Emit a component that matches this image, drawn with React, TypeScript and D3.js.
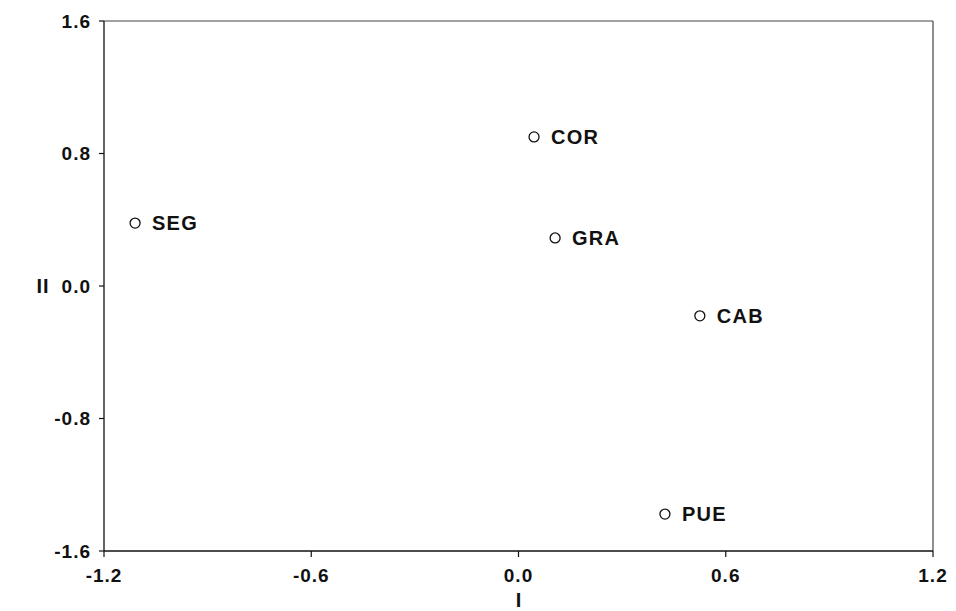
import React from "react";
import * as d3 from "d3";

const labels = ["COR", "GRA", "SEG", "CAB", "PUE"];
const xValues = [0.045, 0.106, -1.11, 0.525, 0.424];
const yValues = [0.9, 0.29, 0.38, -0.18, -1.377];
const xTicks = [-1.2, -0.6, 0.0, 0.6, 1.2];
const yTicks = [-1.6, -0.8, 0.0, 0.8, 1.6];
const xTitle = "I";
const yTitle = "II";

const W = 956;
const H = 611;
const left = 104;
const right = 933;
const top = 21;
const bottom = 551;

export default function App() {
  const x = d3.scaleLinear().domain([-1.2, 1.2]).range([left, right]);
  const y = d3.scaleLinear().domain([-1.6, 1.6]).range([bottom, top]);
  const font = "Arial, 'Liberation Sans', Helvetica, sans-serif";
  const fmt = (v: number) => d3.format(".1f")(v).replace("\u2212", "-");
  return (
    <svg
      width={W}
      height={H}
      style={{ position: "absolute", left: 0, top: 0, background: "#fff" }}
      fontFamily={font}
    >
      {/* frame */}
      <line x1={left} x2={right} y1={top} y2={top} stroke="#444" strokeWidth={1.2} />
      <line x1={right} x2={right} y1={top} y2={bottom} stroke="#444" strokeWidth={1.2} />
      <line x1={left} x2={left} y1={top} y2={bottom} stroke="#111" strokeWidth={1.3} />
      <line x1={left} x2={right} y1={bottom} y2={bottom} stroke="#111" strokeWidth={1.5} />
      {/* y ticks */}
      {yTicks.map((t, i) => (
        <g key={"y" + i}>
          <line x1={left - 5} x2={left} y1={y(t)} y2={y(t)} stroke="#111" strokeWidth={1.2} />
          <text
            x={left - 13}
            y={y(t)}
            dy="0.36em"
            textAnchor="end"
            fontSize={19}
            fontWeight="bold"
            letterSpacing={1}
            fill="#111"
          >
            {fmt(t)}
          </text>
        </g>
      ))}
      {/* x ticks */}
      {xTicks.map((t, i) => (
        <g key={"x" + i}>
          <line x1={x(t)} x2={x(t)} y1={bottom} y2={bottom + 6} stroke="#111" strokeWidth={1.2} />
          <text
            x={x(t)}
            y={582}
            textAnchor="middle"
            fontSize={19}
            fontWeight="bold"
            letterSpacing={1}
            fill="#111"
          >
            {fmt(t)}
          </text>
        </g>
      ))}
      {/* axis titles */}
      <text x={(left + right) / 2} y={607} textAnchor="middle" fontSize={20} fontWeight="bold" fill="#111">
        {xTitle}
      </text>
      <text x={43} y={y(0)} dy="0.36em" textAnchor="middle" fontSize={20} fontWeight="bold" letterSpacing={1} fill="#111">
        {yTitle}
      </text>
      {/* points */}
      {labels.map((l, i) => (
        <g key={l}>
          <circle cx={x(xValues[i])} cy={y(yValues[i])} r={5} fill="#fff" stroke="#111" strokeWidth={1.3} />
          <text
            x={x(xValues[i]) + 17}
            y={y(yValues[i])}
            dy="0.36em"
            fontSize={20}
            fontWeight="bold"
            letterSpacing={1.2}
            fill="#111"
          >
            {l}
          </text>
        </g>
      ))}
    </svg>
  );
}
